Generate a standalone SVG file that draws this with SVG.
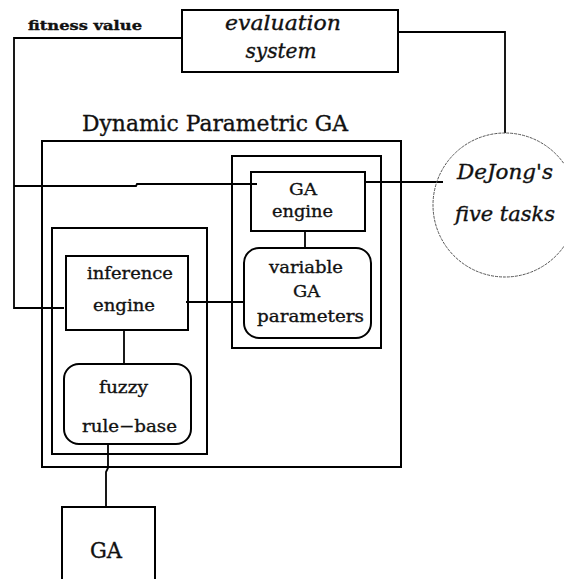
<svg xmlns="http://www.w3.org/2000/svg" width="564" height="579" viewBox="0 0 564 579">
<style>
.b{fill:none;stroke:#000;stroke-width:2}
.c{fill:none;stroke:#000;stroke-width:1.8}
.t{font-family:"DejaVu Serif","Liberation Serif",serif;fill:#111;stroke:#111;stroke-width:0.35;text-anchor:middle}
.i{font-style:italic}
.s{font-size:17px}
</style>
<rect width="564" height="579" fill="#fff"/>
<g id="connectors">
<polyline class="c" points="182,38 14,38 14,308 64,308"/>
<polyline class="c" points="398,32 505,32 505,133"/>
<polyline class="c" points="14,186 136,186 137,184 257,184"/>
<line class="c" x1="365" y1="182" x2="443" y2="182"/>
<line class="c" x1="305" y1="231" x2="305" y2="248"/>
<line class="c" x1="186" y1="302" x2="243" y2="302"/>
<line class="c" x1="124" y1="331" x2="124" y2="364"/>
<polyline class="c" points="108,444 108,468 106,472 106,507"/>
</g>
<g id="fitness-label"><text class="t" x="85" y="30" font-size="13" font-weight="bold" textLength="114" lengthAdjust="spacingAndGlyphs">fitness value</text></g>
<g id="evaluation-system">
<rect class="b" x="182" y="10" width="216" height="62"/>
<text class="t i" x="283" y="30" font-size="20" textLength="116" lengthAdjust="spacingAndGlyphs">evaluation</text>
<text class="t i" x="281" y="58" font-size="20" textLength="71" lengthAdjust="spacingAndGlyphs">system</text>
</g>
<g id="dejong">
<circle cx="505" cy="205" r="72" fill="none" stroke="#555" stroke-width="1" stroke-dasharray="3,1"/>
<text class="t i" x="505" y="179" font-size="20" textLength="96" lengthAdjust="spacingAndGlyphs">DeJong's</text>
<text class="t i" x="505" y="221" font-size="20" textLength="100" lengthAdjust="spacingAndGlyphs">five tasks</text>
</g>
<g id="dynamic-parametric-ga">
<text class="t" x="215" y="131" font-size="22" textLength="266" lengthAdjust="spacingAndGlyphs">Dynamic Parametric GA</text>
<rect class="b" x="42" y="141" width="359" height="326"/>
</g>
<g id="ga-container"><rect class="b" x="232" y="156" width="149" height="192"/></g>
<g id="ga-engine">
<rect class="b" x="251" y="172" width="114" height="59"/>
<text class="t s" x="303" y="195" textLength="28" lengthAdjust="spacingAndGlyphs">GA</text>
<text class="t s" x="302.500" y="217" textLength="61" lengthAdjust="spacingAndGlyphs">engine</text>
</g>
<g id="variable-ga-parameters">
<rect class="b" x="244" y="248" width="127" height="90" rx="15"/>
<text class="t s" x="306" y="273" textLength="74" lengthAdjust="spacingAndGlyphs">variable</text>
<text class="t s" x="306.500" y="297" textLength="27" lengthAdjust="spacingAndGlyphs">GA</text>
<text class="t s" x="310.500" y="322" textLength="107" lengthAdjust="spacingAndGlyphs">parameters</text>
</g>
<g id="fuzzy-container"><rect class="b" x="52" y="228" width="155" height="226"/></g>
<g id="inference-engine">
<rect class="b" x="66" y="256" width="122" height="74"/>
<text class="t s" x="130" y="279" textLength="86" lengthAdjust="spacingAndGlyphs">inference</text>
<text class="t s" x="124" y="311" textLength="62" lengthAdjust="spacingAndGlyphs">engine</text>
</g>
<g id="fuzzy-rule-base">
<rect class="b" x="64" y="364" width="127" height="80" rx="15"/>
<text class="t s" x="123.500" y="393" textLength="49" lengthAdjust="spacingAndGlyphs">fuzzy</text>
<text class="t s" x="129.500" y="432" textLength="95" lengthAdjust="spacingAndGlyphs">rule−base</text>
</g>
<g id="ga">
<rect class="b" x="62" y="507" width="93" height="80"/>
<text class="t" x="106" y="558" font-size="22" textLength="32" lengthAdjust="spacingAndGlyphs">GA</text>
</g>
</svg>
